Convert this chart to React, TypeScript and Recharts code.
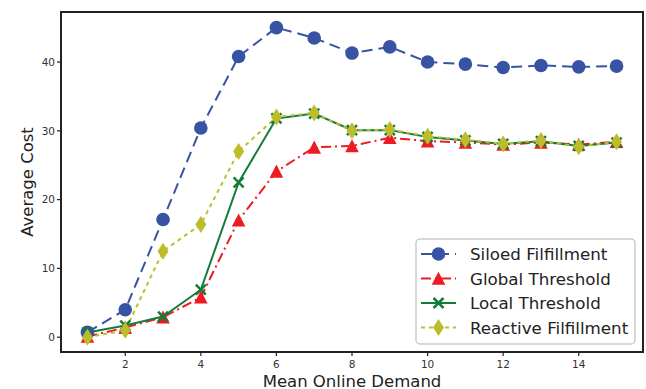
import React from 'react';
import { LineChart, Line, XAxis, YAxis, ReferenceArea, Legend } from 'recharts';

const demand = [1, 2, 3, 4, 5, 6, 7, 8, 9, 10, 11, 12, 13, 14, 15];
const siloed = [0.7, 4.0, 17.1, 30.4, 40.8, 45.0, 43.5, 41.3, 42.2, 40.0, 39.7, 39.2, 39.5, 39.3, 39.4];
const globalThreshold = [0.1, 1.4, 2.9, 5.8, 17.0, 24.1, 27.6, 27.8, 29.0, 28.5, 28.3, 28.0, 28.3, 28.0, 28.4];
const localThreshold = [0.7, 1.7, 3.0, 6.9, 22.5, 31.8, 32.5, 30.1, 30.1, 29.1, 28.6, 28.1, 28.5, 27.8, 28.3];
const reactive = [0.0, 1.0, 12.5, 16.4, 27.0, 32.0, 32.6, 30.0, 30.2, 29.2, 28.7, 28.1, 28.6, 27.7, 28.4];

const xTicks = [2, 4, 6, 8, 10, 12, 14];
const yTicks = [0, 10, 20, 30, 40];

const X_DOMAIN = [0.3, 15.7];
const Y_DOMAIN = [-2.15, 47.27];

const FONT = 'DejaVu Sans';

const data = demand.map((d, i) => ({
  demand: d,
  siloed: siloed[i],
  globalT: globalThreshold[i],
  localT: localThreshold[i],
  reactive: reactive[i],
}));

type Kind = 'circle' | 'triangle' | 'x' | 'diamond';

const series: { key: string; name: string; color: string; dash?: string; marker: Kind }[] = [
  { key: 'siloed', name: 'Siloed Filfillment', color: '#3953a4', dash: '11 6', marker: 'circle' },
  { key: 'globalT', name: 'Global Threshold', color: '#ed1c24', dash: '10 4 2 4', marker: 'triangle' },
  { key: 'localT', name: 'Local Threshold', color: '#127c3b', marker: 'x' },
  { key: 'reactive', name: 'Reactive Filfillment', color: '#bdbd2b', dash: '4 4', marker: 'diamond' },
];

function Marker({ kind, cx, cy, color }: { kind: Kind; cx: number; cy: number; color: string }) {
  if (cx == null || cy == null) return <g />;
  if (kind === 'circle') return <circle cx={cx} cy={cy} r={6.8} fill={color} />;
  if (kind === 'triangle')
    return <polygon points={`${cx},${cy - 6.8} ${cx - 6.8},${cy + 6.3} ${cx + 6.8},${cy + 6.3}`} fill={color} />;
  if (kind === 'x')
    return (
      <g stroke={color} strokeWidth={2.5}>
        <line x1={cx - 5} y1={cy - 5} x2={cx + 5} y2={cy + 5} />
        <line x1={cx - 5} y1={cy + 5} x2={cx + 5} y2={cy - 5} />
      </g>
    );
  return <polygon points={`${cx},${cy - 8.5} ${cx + 5.5},${cy} ${cx},${cy + 8.5} ${cx - 5.5},${cy}`} fill={color} />;
}

// legend keeps the plotting order of the series
function LegendBox() {
  return (
    <svg width={222} height={108} style={{ display: 'block' }}>
      <rect x={1} y={1} width={219} height={105} rx={4} fill="white" fillOpacity={0.85} stroke="#ccc" strokeWidth={1.5} />
      {series.map((s, i) => {
        const y = 16 + i * 24.5;
        return (
          <g key={s.key}>
            <line x1={6} x2={41} y1={y} y2={y} stroke={s.color} strokeWidth={2} strokeDasharray={s.dash} />
            <Marker kind={s.marker} cx={23.5} cy={y} color={s.color} />
            <text x={55} y={y} dominantBaseline="central" fontFamily={FONT} fontSize={16.7} fill="#222">
              {s.name}
            </text>
          </g>
        );
      })}
    </svg>
  );
}

export default function App() {
  return (
    <div style={{ position: 'absolute', left: 0, top: 0, background: '#fff' }}>
      <LineChart width={646} height={389} data={data} margin={{ top: 12, right: 3, left: 0, bottom: 0 }}>
        <XAxis
          dataKey="demand"
          type="number"
          domain={X_DOMAIN}
          ticks={xTicks}
          allowDataOverflow
          axisLine={false}
          tickSize={4}
          tickMargin={5}
          height={37}
          tickLine={{ stroke: '#222', strokeWidth: 1.2 }}
          tick={{ fontSize: 10.5, fill: '#333', fontFamily: FONT }}
          label={{ value: 'Mean Online Demand', position: 'insideBottom', offset: 2.5, fontSize: 16.5, fill: '#222', fontFamily: FONT }}
        />
        <YAxis
          type="number"
          domain={Y_DOMAIN}
          ticks={yTicks}
          allowDataOverflow
          axisLine={false}
          width={61}
          tickSize={4}
          tickMargin={2}
          tickLine={{ stroke: '#222', strokeWidth: 1.2 }}
          tick={{ fontSize: 10.5, fill: '#333', fontFamily: FONT }}
          label={{
            content: (p: any) => {
              const vb = p.viewBox;
              const cx = 27;
              const cy = vb.y + vb.height / 2;
              return (
                <text
                  x={cx}
                  y={cy}
                  transform={`rotate(-90 ${cx} ${cy})`}
                  textAnchor="middle"
                  dominantBaseline="central"
                  fontFamily={FONT}
                  fontSize={16.5}
                  fill="#222"
                >
                  Average Cost
                </text>
              );
            },
          }}
        />
        {series.map((s) => (
          <Line
            key={s.key}
            dataKey={s.key}
            name={s.name}
            type="linear"
            stroke={s.color}
            strokeWidth={2}
            strokeDasharray={s.dash}
            isAnimationActive={false}
            activeDot={false}
            dot={(p: any) => <Marker key={`${s.key}-${p.index}`} kind={s.marker} cx={p.cx} cy={p.cy} color={s.color} />}
          />
        ))}
        <ReferenceArea
          x1={X_DOMAIN[0]}
          x2={X_DOMAIN[1]}
          y1={Y_DOMAIN[0]}
          y2={Y_DOMAIN[1]}
          fill="none"
          stroke="#222"
          strokeWidth={2}
        />
        <Legend
          layout="horizontal"
          verticalAlign="middle"
          align="center"
          content={<LegendBox />}
          wrapperStyle={{ left: 415, top: 238, width: 222, height: 108 }}
        />
      </LineChart>
    </div>
  );
}
